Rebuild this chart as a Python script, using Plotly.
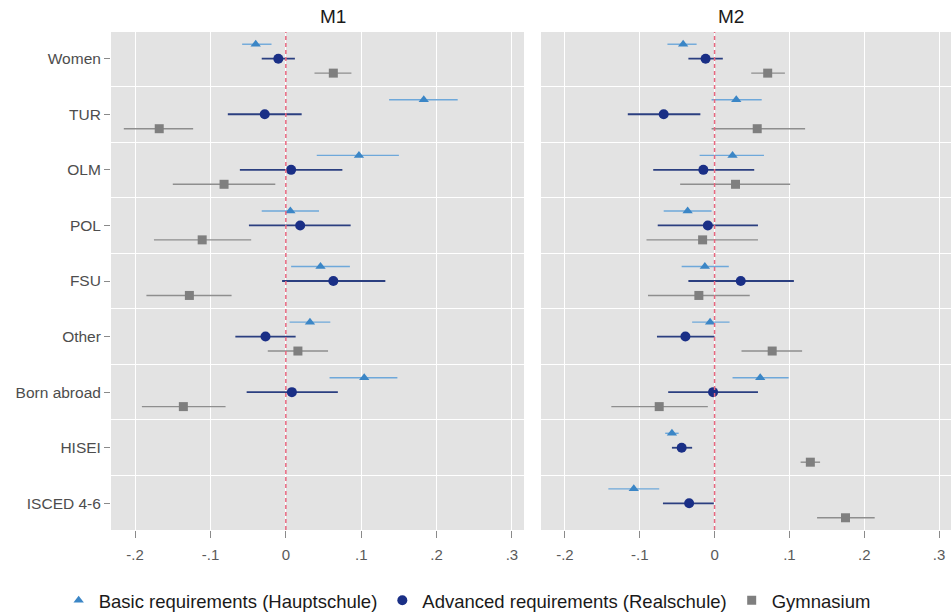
import plotly.graph_objects as go

# Coefficient plot: two model panels, three school-track outcomes
categories = ["Women", "TUR", "OLM", "POL", "FSU", "Other", "Born abroad", "HISEI", "ISCED 4-6"]
tick_vals_x = [-0.2, -0.1, 0, 0.1, 0.2, 0.3]
tick_text_x = ["-.2", "-.1", "0", ".1", ".2", ".3"]
series_names = ["Basic requirements (Hauptschule)", "Advanced requirements (Realschule)", "Gymnasium"]

# Model M1: estimates with lower / upper confidence bounds
m1_basic = [-0.040, 0.183, 0.097, 0.006, 0.046, 0.032, 0.104, None, None]
m1_basic_lo = [-0.058, 0.137, 0.041, -0.032, 0.007, 0.005, 0.058, None, None]
m1_basic_hi = [-0.019, 0.228, 0.150, 0.044, 0.085, 0.059, 0.148, None, None]

m1_adv = [-0.010, -0.028, 0.007, 0.019, 0.063, -0.027, 0.008, None, None]
m1_adv_lo = [-0.032, -0.077, -0.061, -0.049, -0.005, -0.067, -0.052, None, None]
m1_adv_hi = [0.012, 0.021, 0.075, 0.086, 0.132, 0.013, 0.069, None, None]

m1_gym = [0.063, -0.168, -0.082, -0.111, -0.128, 0.016, -0.136, None, None]
m1_gym_lo = [0.038, -0.215, -0.150, -0.175, -0.185, -0.024, -0.191, None, None]
m1_gym_hi = [0.087, -0.123, -0.014, -0.046, -0.072, 0.056, -0.080, None, None]

# Model M2
m2_basic = [-0.042, 0.029, 0.024, -0.036, -0.013, -0.006, 0.061, -0.057, -0.108]
m2_basic_lo = [-0.063, -0.004, -0.020, -0.068, -0.044, -0.030, 0.024, -0.066, -0.142]
m2_basic_hi = [-0.024, 0.063, 0.066, -0.004, 0.019, 0.020, 0.099, -0.048, -0.074]

m2_adv = [-0.012, -0.068, -0.015, -0.009, 0.035, -0.039, -0.002, -0.044, -0.034]
m2_adv_lo = [-0.035, -0.116, -0.082, -0.076, -0.035, -0.077, -0.062, -0.057, -0.069]
m2_adv_hi = [0.011, -0.019, 0.053, 0.058, 0.106, 0.000, 0.058, -0.030, -0.001]

m2_gym = [0.071, 0.057, 0.028, -0.016, -0.021, 0.077, -0.074, 0.128, 0.175]
m2_gym_lo = [0.049, -0.004, -0.046, -0.091, -0.089, 0.036, -0.138, 0.115, 0.137]
m2_gym_hi = [0.094, 0.121, 0.101, 0.058, 0.047, 0.117, -0.009, 0.141, 0.214]

styles = [
    dict(symbol="triangle-up", size=9, color="#3b86c6", bar="#6ea8da", offset=-0.26, width=1.4),
    dict(symbol="circle", size=10, color="#1a2f86", bar="#2b3f80", offset=0.0, width=1.8),
    dict(symbol="square", size=9, color="#7f7f7f", bar="#8e8e8e", offset=0.26, width=1.4),
]

panels = [
    ("x", "y", [(m1_basic, m1_basic_lo, m1_basic_hi), (m1_adv, m1_adv_lo, m1_adv_hi), (m1_gym, m1_gym_lo, m1_gym_hi)]),
    ("x2", "y2", [(m2_basic, m2_basic_lo, m2_basic_hi), (m2_adv, m2_adv_lo, m2_adv_hi), (m2_gym, m2_gym_lo, m2_gym_hi)]),
]

fig = go.Figure()
for p, (xa, ya, data) in enumerate(panels):
    for s, (est, lo, hi) in enumerate(data):
        st = styles[s]
        xs, ys, plus, minus = [], [], [], []
        for i, v in enumerate(est):
            if v is None:
                continue
            xs.append(v)
            ys.append(i + st["offset"])
            plus.append(hi[i] - v)
            minus.append(v - lo[i])
        fig.add_trace(go.Scatter(
            x=xs, y=ys, xaxis=xa, yaxis=ya, mode="markers",
            name=series_names[s], showlegend=(p == 0), legendgroup=series_names[s],
            marker=dict(symbol=st["symbol"], size=st["size"], color=st["color"]),
            error_x=dict(type="data", symmetric=False, array=plus, arrayminus=minus,
                         color=st["bar"], thickness=st["width"], width=0),
        ))

n = len(categories)
boundaries = [i + 0.5 for i in range(n - 1)]
yrange = [n - 1 + 0.48, -0.48]
xrange = [-0.232, 0.316]
grid_col = "#ffffff"
panel_bg = "#e3e3e3"

def xaxis_cfg(domain, anchor):
    return dict(domain=domain, anchor=anchor, range=xrange, tickvals=tick_vals_x, ticktext=tick_text_x,
                showgrid=True, gridcolor=grid_col, gridwidth=1.3, zeroline=False,
                ticks="outside", ticklen=7, tickcolor="#8a8a8a", tickwidth=1,
                ticklabelstandoff=4, automargin=False,
                tickfont=dict(size=15, color="#5a5a5a"), showline=False)

def yaxis_cfg(anchor, labels):
    return dict(anchor=anchor, range=yrange, tickvals=list(range(n)),
                ticktext=categories if labels else [""] * n, showticklabels=labels,
                showgrid=False, zeroline=False, automargin=False,
                ticks="outside" if labels else "", ticklen=6, tickcolor="#8a8a8a",
                tickfont=dict(size=15.5, color="#4d4d4d"),
                minor=dict(tickvals=boundaries, showgrid=True, gridcolor=grid_col, gridwidth=1.3, ticks=""))

W, H = 951, 616
ml, mr, mt, mb = 111, 0, 32, 86
pw = W - ml - mr
d1 = [0, (524 - ml) / pw]
d2 = [(541 - ml) / pw, 1]

fig.update_layout(
    width=W, height=H, margin=dict(l=ml, r=mr, t=mt, b=mb, autoexpand=False),
    paper_bgcolor="white", plot_bgcolor=panel_bg,
    font=dict(family="Liberation Sans, Arial, sans-serif"),
    xaxis=xaxis_cfg(d1, "y"), xaxis2=xaxis_cfg(d2, "y2"),
    yaxis=yaxis_cfg("x", True), yaxis2=yaxis_cfg("x2", False),
    legend=dict(orientation="h", x=0.424, xanchor="center", y=-0.104, yanchor="top",
                font=dict(size=18.5, color="#1a1a1a"), itemwidth=30, traceorder="normal"),
    annotations=[
        dict(text="M1", xref="paper", yref="paper", x=sum(d1) / 2, y=1, yanchor="bottom", yshift=3,
             showarrow=False, font=dict(size=19, color="#1a1a1a")),
        dict(text="M2", xref="paper", yref="paper", x=sum(d2) / 2, y=1, yanchor="bottom", yshift=3,
             showarrow=False, font=dict(size=19, color="#1a1a1a")),
    ],
    shapes=[
        dict(type="line", xref="x", yref="y domain", x0=0, x1=0, y0=0, y1=1,
             line=dict(color="#e8677f", width=1.5, dash="4px,3px"), layer="above"),
        dict(type="line", xref="x2", yref="y2 domain", x0=0, x1=0, y0=0, y1=1,
             line=dict(color="#e8677f", width=1.5, dash="4px,3px"), layer="above"),
    ],
)

fig.write_html("out.html")
